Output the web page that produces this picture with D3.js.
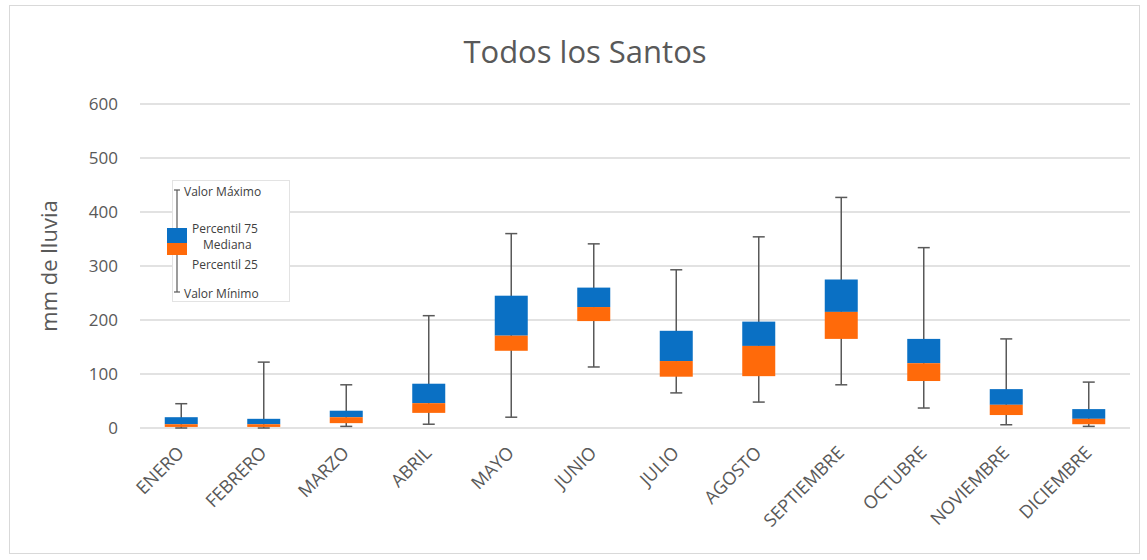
<!DOCTYPE html>
<html><head><meta charset="utf-8">
<script src="https://cdn.jsdelivr.net/npm/d3@7"></script>
<style>body{margin:0;background:#fff}svg{display:block}</style>
</head><body><svg id="c" width="1147" height="560"></svg>
<script>
const months = ["ENERO","FEBRERO","MARZO","ABRIL","MAYO","JUNIO","JULIO","AGOSTO","SEPTIEMBRE","OCTUBRE","NOVIEMBRE","DICIEMBRE"];
const minVals = [0, 0, 3, 7, 20, 113, 65, 48, 80, 37, 6, 3];
const p25Vals = [2, 2, 9, 28, 143, 198, 95, 96, 165, 87, 24, 7];
const medVals = [7, 7, 20, 46, 171, 224, 124, 152, 215, 120, 43, 17];
const p75Vals = [20, 17, 32, 82, 245, 260, 180, 197, 275, 165, 72, 35];
const maxVals = [45, 122, 80, 208, 360, 341, 293, 354, 427, 334, 165, 85];
const yTicks = [0, 100, 200, 300, 400, 500, 600];
const legendLabels = ["Valor Máximo", "Percentil 75", "Mediana", "Percentil 25", "Valor Mínimo"];

const font = "'Open Sans', sans-serif";
const grey = "#595959";
const blue = "#0a70c4", orange = "#ff6a0a";
const svg = d3.select("#c");

svg.append("rect").attr("x",9.5).attr("y",5.5).attr("width",1130).attr("height",548)
  .attr("fill","#fff").attr("stroke","#d9d9d9");

const x = d3.scaleBand().domain(months).range([140,1130]).paddingInner(0).paddingOuter(0);
const y = d3.scaleLinear().domain([0,600]).range([428,104]);

// gridlines
svg.append("g").selectAll("line").data(yTicks).join("line")
  .attr("x1",140).attr("x2",1130).attr("y1",d=>y(d)).attr("y2",d=>y(d))
  .attr("stroke","#d9d9d9").attr("stroke-width",1.3);

// y axis
const ya = svg.append("g").attr("transform","translate(140,0)")
  .call(d3.axisLeft(y).tickValues(yTicks).tickSize(0).tickPadding(22));
ya.select(".domain").remove();
ya.selectAll("text").attr("font-family",font).attr("font-size",17).attr("fill",grey);

// x axis labels
const xa = svg.append("g").attr("transform","translate(0,428)")
  .call(d3.axisBottom(x).tickSize(0).tickPadding(0));
xa.select(".domain").remove();
xa.selectAll("text").attr("font-family",font).attr("font-size",18).attr("fill",grey)
  .attr("text-anchor","end").attr("dy",null)
  .attr("transform","translate(4,26) rotate(-45)");

const data = months.map((m,i)=>({m,min:minVals[i],p25:p25Vals[i],med:medVals[i],p75:p75Vals[i],max:maxVals[i]}));
const bw = 33, cap = 12;
const g = svg.append("g");
const cx = d=>x(d.m)+x.bandwidth()/2;
// whiskers
g.selectAll(".w").data(data).join("line").attr("x1",cx).attr("x2",cx)
  .attr("y1",d=>y(d.max)).attr("y2",d=>y(d.min)).attr("stroke",grey).attr("stroke-width",1.5);
g.selectAll(".ct").data(data).join("line").attr("x1",d=>cx(d)-cap/2).attr("x2",d=>cx(d)+cap/2)
  .attr("y1",d=>y(d.max)).attr("y2",d=>y(d.max)).attr("stroke",grey).attr("stroke-width",1.5);
g.selectAll(".cb").data(data).join("line").attr("x1",d=>cx(d)-cap/2).attr("x2",d=>cx(d)+cap/2)
  .attr("y1",d=>y(d.min)).attr("y2",d=>y(d.min)).attr("stroke",grey).attr("stroke-width",1.5);
// boxes
g.selectAll(".bu").data(data).join("rect").attr("x",d=>cx(d)-bw/2).attr("width",bw)
  .attr("y",d=>y(d.p75)).attr("height",d=>y(d.med)-y(d.p75)).attr("fill",blue);
g.selectAll(".bo").data(data).join("rect").attr("x",d=>cx(d)-bw/2).attr("width",bw)
  .attr("y",d=>y(d.med)).attr("height",d=>y(d.p25)-y(d.med)).attr("fill",orange);

// title
svg.append("text").attr("x",585).attr("y",63).attr("text-anchor","middle")
  .attr("font-family",font).attr("font-size",31).attr("fill",grey).text("Todos los Santos");
// y label
svg.append("text").attr("transform","translate(57,266) rotate(-90)").attr("text-anchor","middle")
  .attr("font-family",font).attr("font-size",22).attr("fill",grey).text("mm de lluvia");

// legend
const lg = svg.append("g");
lg.append("rect").attr("x",172.5).attr("y",180.5).attr("width",117).attr("height",121)
  .attr("fill","#fff").attr("stroke","#e3e3e3");
lg.append("line").attr("x1",177).attr("x2",177).attr("y1",190).attr("y2",292).attr("stroke",grey).attr("stroke-width",1.2);
lg.append("line").attr("x1",174).attr("x2",180).attr("y1",190).attr("y2",190).attr("stroke",grey).attr("stroke-width",1.2);
lg.append("line").attr("x1",174).attr("x2",180).attr("y1",292).attr("y2",292).attr("stroke",grey).attr("stroke-width",1.2);
lg.append("rect").attr("x",167).attr("y",228).attr("width",20).attr("height",15).attr("fill",blue);
lg.append("rect").attr("x",167).attr("y",243).attr("width",20).attr("height",12).attr("fill",orange);
const lx = [184,192,203,192,184], ly = [196,233,249,269,298];
lg.selectAll("text.l").data(legendLabels).join("text")
  .attr("x",(d,i)=>lx[i]).attr("y",(d,i)=>ly[i])
  .attr("font-family",font).attr("font-size",12).attr("fill","#404040").text(d=>d);
</script></body></html>
